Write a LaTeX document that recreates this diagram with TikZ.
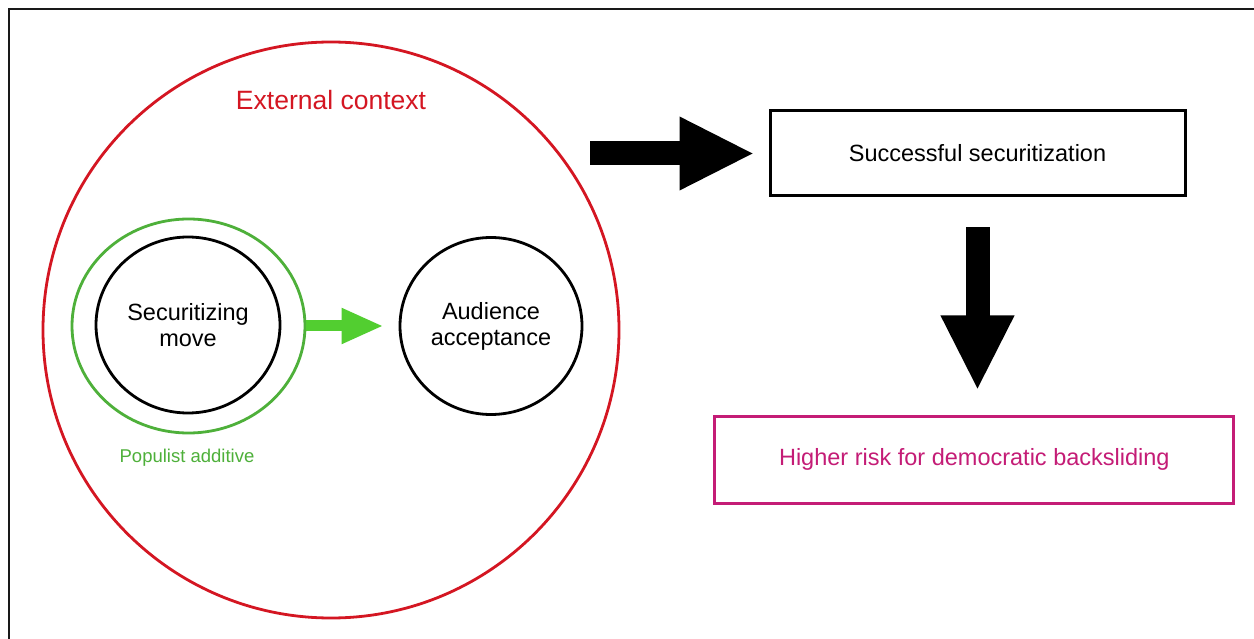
\documentclass[tikz,border=0pt]{standalone}
\usepackage{fontspec}
\setmainfont{Liberation Sans}
\usetikzlibrary{shapes.geometric,arrows.meta,calc}

\definecolor{ctxred}{RGB}{212,22,34}
\definecolor{popgreen}{RGB}{78,176,58}
\definecolor{arrowgreen}{RGB}{82,206,48}
\definecolor{riskpink}{RGB}{196,28,118}

\tikzset{
  ring/.style={ellipse, draw, line width=2.8pt, inner sep=0pt},
  lbl/.style={font=\fontsize{23.5}{26}\selectfont, align=center, text=black},
  box/.style={rectangle, draw, line width=3pt, inner sep=0pt},
  blockarrow/.style={line width=24pt, -{Triangle[width=68pt,length=75pt]}},
}

\begin{document}
\begin{tikzpicture}[x=1pt,y=-1pt]
  \useasboundingbox (0,0) rectangle (1254,639);
  \fill[white] (0,0) rectangle (1254,639);

  % frame (top and left edges)
  \draw[line width=2.2pt, black!90] (9,639) -- (9,9) -- (1254,9);

  % external context
  \node[ring, draw=ctxred, minimum width=576pt, minimum height=576pt] (ctx) at (331,330) {};
  \node[font=\fontsize{26.5}{30}\selectfont, text=ctxred] (ctxlabel) at (331,100) {External context};

  % populist additive ring and securitizing move
  \node[ring, draw=popgreen, minimum width=233pt, minimum height=214pt] (pop) at (188.5,326) {};
  \node[ring, minimum width=184pt, minimum height=176pt, lbl] (move) at (188,325) {Securitizing\\move};
  \node[font=\fontsize{18.5}{21}\selectfont, text=popgreen] (poplabel) at (187,458) {Populist additive};

  % audience acceptance
  \node[ring, minimum width=182pt, minimum height=177pt, lbl] (aud) at (491,326) {Audience\\acceptance};

  \draw[arrowgreen, line width=11pt, -{Triangle[width=33pt,length=42pt]}, shorten >=15pt]
    (pop.east) -- (aud.west);

  % outcome boxes
  \node[box, minimum width=415pt, minimum height=85pt, lbl] (success) at (977.5,153.5) {Successful securitization};
  \node[box, draw=riskpink, minimum width=519pt, minimum height=87pt, lbl, text=riskpink] (risk) at (974.3,459.5) {Higher risk for democratic backsliding};

  \coordinate (ctxout) at (590,153.5);
  \draw[blockarrow, shorten >=14pt] (ctxout) -- (success.west);
  \draw[blockarrow, shorten <=30pt, shorten >=24pt] (success.south) -- (success.south |- risk.north);
\end{tikzpicture}
\end{document}
